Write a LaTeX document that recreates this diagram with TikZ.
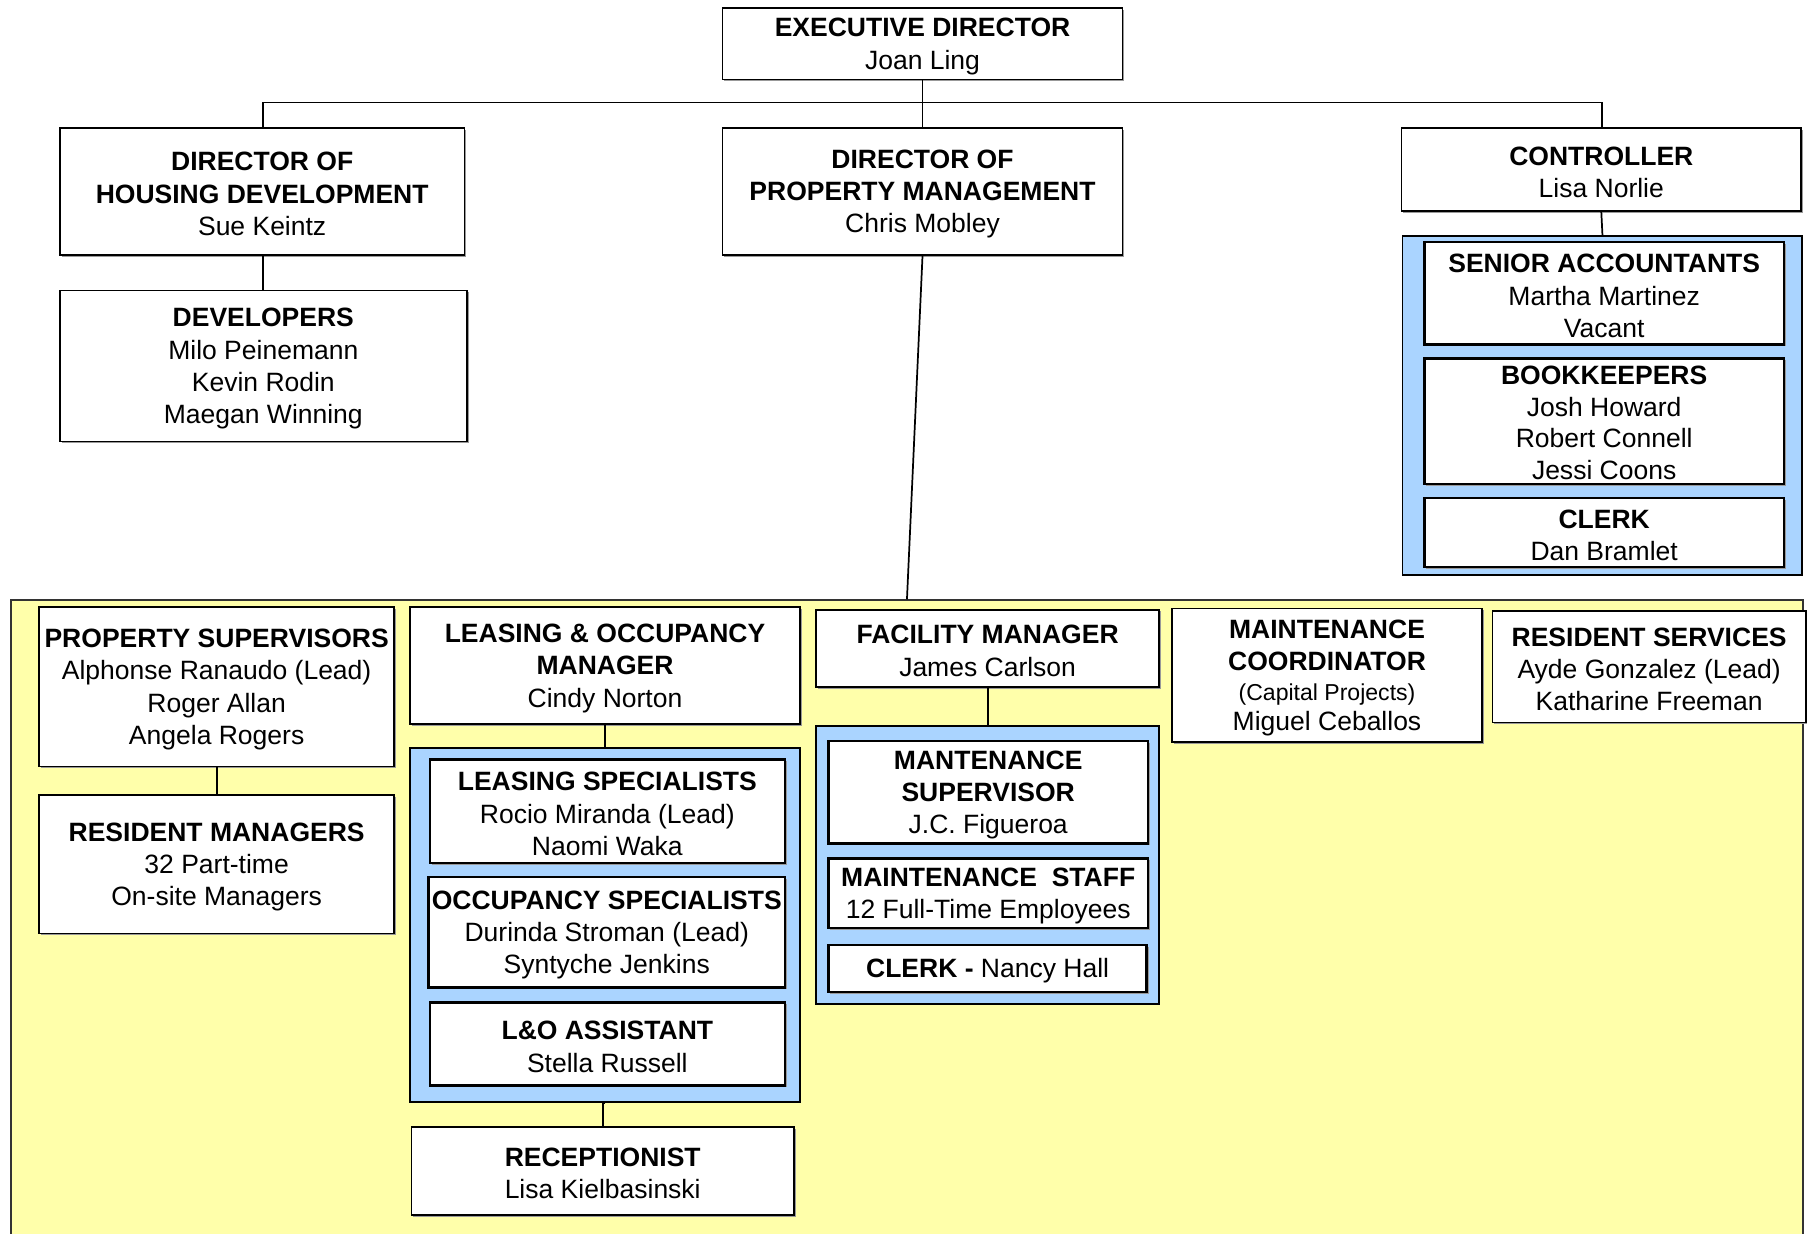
\documentclass[tikz,border=0pt]{standalone}
\usepackage{fontspec}
\setmainfont{Liberation Sans}
\definecolor{bgyellow}{RGB}{255,255,170}
\definecolor{grpblue}{RGB}{170,212,255}
\newcommand{\tstrut}{\rule{0pt}{10.4pt}}
\newcommand{\sstrut}{\rule{0pt}{9.4pt}}
\tikzset{
  sz/.style 2 args={minimum width=#1*0.5pt, minimum height=#2*0.5pt},
  box/.style={draw=black, line width=0.75pt, fill=white, inner sep=0pt, align=center,
    font=\fontsize{11.5}{14}\selectfont,
    preaction={fill=black!40, transform canvas={shift={(0.8pt,-0.8pt)}}}},
  ibox/.style={box, line width=1.05pt},
  grp/.style={draw=black, line width=0.8pt, fill=grpblue, inner sep=0pt},
  conn/.style={draw=black, line width=0.75pt},
}
\begin{document}
\begin{tikzpicture}[x=0.5pt, y=-0.5pt]
\useasboundingbox (0,0) rectangle (1568,1070);
\clip (0,0) rectangle (1568,1070);
% yellow region
\node[draw=black!80, line width=0.7pt, fill=bgyellow, inner sep=0pt, sz={1555}{560}, anchor=north west] (yel) at (9,520) {};
% top level
\node[box, sz={347}{62}] (exec) at (800.5,38) {\tstrut\textbf{EXECUTIVE DIRECTOR}\\Joan Ling};
\node[box, sz={351}{110}] (hous) at (227.5,166) {\tstrut\textbf{DIRECTOR OF}\\\textbf{HOUSING DEVELOPMENT}\\Sue Keintz};
\node[box, sz={353}{131}] (dev) at (228.5,317.5) {\tstrut\textbf{DEVELOPERS}\\Milo Peinemann\\Kevin Rodin\\Maegan Winning};
\node[box, sz={347}{110}] (pm) at (800.5,166) {\tstrut\textbf{DIRECTOR OF}\\\textbf{PROPERTY MANAGEMENT}\\Chris Mobley};
\node[box, sz={347}{72}] (ctrl) at (1389.5,147) {\tstrut\textbf{CONTROLLER}\\Lisa Norlie};
% accounting group
\node[grp, sz={347}{294}] (acct) at (1390.5,352) {};
\node[ibox, sz={312}{89}] (sa) at (1392,254.5) {\tstrut\textbf{SENIOR ACCOUNTANTS}\\Martha Martinez\\Vacant};
\node[ibox, sz={312}{109}] (bk) at (1392,365.5) {\sstrut\textbf{BOOKKEEPERS}\\[-0.2pt]Josh Howard\\[-0.2pt]Robert Connell\\[-0.2pt]Jessi Coons};
\node[ibox, sz={312}{60}] (clk) at (1392,462) {\tstrut\textbf{CLERK}\\Dan Bramlet};
% property management region
\node[box, sz={308}{138}] (psup) at (188,596) {\tstrut\textbf{PROPERTY SUPERVISORS}\\Alphonse Ranaudo (Lead)\\Roger Allan\\Angela Rogers};
\node[box, sz={308}{120}] (resm) at (188,750) {\tstrut\textbf{RESIDENT MANAGERS}\\32 Part-time\\On-site Managers};
\node[box, sz={338}{101}] (lom) at (525,577.5) {\tstrut\textbf{LEASING \& OCCUPANCY}\\\textbf{MANAGER}\\Cindy Norton};
\node[grp, sz={338}{307}] (lgrp) at (525,802.5) {};
\node[ibox, sz={308}{90}] (ls) at (527,704) {\tstrut\textbf{LEASING SPECIALISTS}\\Rocio Miranda (Lead)\\Naomi Waka};
\node[ibox, sz={309}{96}] (os) at (526.5,809) {\tstrut\textbf{OCCUPANCY SPECIALISTS}\\Durinda Stroman (Lead)\\Syntyche Jenkins};
\node[ibox, sz={308}{72}] (loa) at (527,906) {\tstrut\textbf{L\&O ASSISTANT}\\Stella Russell};
\node[box, sz={332}{76}] (recep) at (523,1016) {\tstrut\textbf{RECEPTIONIST}\\Lisa Kielbasinski};
\node[box, sz={298}{67}] (fm) at (857,562.5) {\tstrut\textbf{FACILITY MANAGER}\\James Carlson};
\node[grp, sz={298}{241}] (mgrp) at (857,750.5) {};
\node[ibox, sz={277}{89}] (msup) at (857.5,687.5) {\tstrut\textbf{MANTENANCE}\\\textbf{SUPERVISOR}\\J.C. Figueroa};
\node[ibox, sz={277}{60}] (mstaff) at (857.5,775) {\tstrut\textbf{MAINTENANCE\ \ STAFF}\\12 Full-Time Employees};
\node[ibox, sz={276}{41}] (mclerk) at (857,840.5) {\tstrut\textbf{CLERK -} Nancy Hall};
\node[box, sz={269}{116}] (mc) at (1151.5,586) {\tstrut\textbf{MAINTENANCE}\\\textbf{COORDINATOR}\\[-1pt]{\fontsize{10}{12}\selectfont (Capital Projects)}\\[-1pt]Miguel Ceballos};
\node[box, sz={272}{97}] (rs) at (1431,578.5) {\tstrut\textbf{RESIDENT SERVICES}\\Ayde Gonzalez (Lead)\\Katharine Freeman};
% connectors
\coordinate (jL) at (228,89);
\coordinate (jR) at (1390,89);
\coordinate (jM) at (800.5,89);
\coordinate (pmend) at (787,520);
\draw[conn] (hous.north -| jL) -- (jL) -- (jR) -- (ctrl.north -| jR);
\draw[conn] (exec.south) -- (jM) -- (pm.north);
\draw[conn] (hous.south -| jL) -- (dev.north -| jL);
\draw[conn] (pm.south) -- (pmend);
\draw[conn] (ctrl.south) -- (acct.north);
\draw[conn] (psup.south) -- (resm.north);
\draw[conn] (lom.south) -- (lgrp.north);
\draw[conn] (lgrp.south) -- (recep.south |- lgrp.south) -- (recep.north);
\draw[conn] (fm.south) -- (mgrp.north);
\end{tikzpicture}
\end{document}
